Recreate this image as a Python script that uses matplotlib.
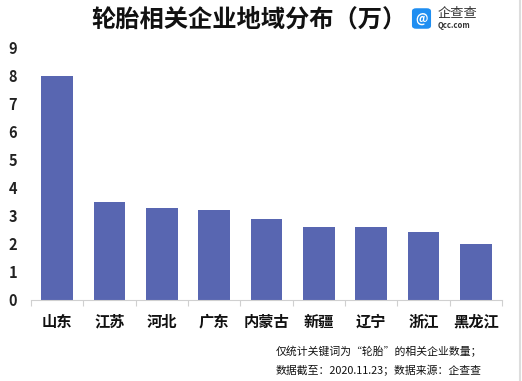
import matplotlib
matplotlib.use('Agg')
from matplotlib import pyplot as plt
from matplotlib.patches import FancyBboxPatch
from matplotlib.lines import Line2D

plt.rcParams['font.family'] = ['Noto Sans CJK SC', 'DejaVu Sans']

regions = ['山东', '江苏', '河北', '广东', '内蒙古', '新疆', '辽宁', '浙江', '黑龙江']
counts = [8.0, 3.51, 3.27, 3.20, 2.88, 2.62, 2.60, 2.42, 1.99]
yticks = list(range(10))

title = '轮胎相关企业地域分布（万）'
note1 = '仅统计关键词为“轮胎”的相关企业数量；'
note2 = '数据截至：2020.11.23；数据来源：企查查'

bar_color = '#5866b1'

if __name__ == '__main__':
    fig = plt.figure(figsize=(5.22, 3.81), dpi=100)
    ax = fig.add_axes([31 / 522, 81 / 381, 471 / 522, 252 / 381])

    x = range(len(regions))
    ax.bar(x, counts, width=0.6, color=bar_color)

    ax.set_xlim(-0.5, len(regions) - 0.5)
    ax.set_ylim(0, 9)
    ax.set_yticks(yticks)
    ax.set_yticklabels([str(t) for t in yticks], fontsize=10.5,
                       fontweight='bold', color='#222222')
    ax.tick_params(axis='y', length=0, pad=10)

    # 类别标签放在柱子下面，刻度线放在类别之间
    ax.set_xticks([i - 0.5 for i in range(len(regions) + 1)])
    ax.set_xticklabels([])
    ax.tick_params(axis='x', length=4, color='#d0d0d0', direction='out')
    for i, name in enumerate(regions):
        ax.text(i, -0.78, name, ha='center', va='center', fontsize=11,
                fontweight='bold', color='#111111')

    for side in ['top', 'right', 'left']:
        ax.spines[side].set_visible(False)
    ax.spines['bottom'].set_color('#d0d0d0')

    fig.text(249 / 522, 1 - 19.5 / 381, title, ha='center', va='center',
             fontsize=17.5, fontweight='bold', color='#111111')

    # 企查查 logo
    fig.patches.append(FancyBboxPatch((413 / 522, 1 - 28 / 381), 17 / 522, 19 / 381,
                                      boxstyle='round,pad=0.002,rounding_size=0.008',
                                      transform=fig.transFigure, facecolor='#1f8ef1',
                                      edgecolor='none'))
    fig.text(421.5 / 522, 1 - 18.5 / 381, '@', ha='center', va='center',
             fontsize=9, color='white', fontweight='bold')
    fig.text(438 / 522, 1 - 14 / 381, '企查查', ha='left', va='center',
             fontsize=9.5, color='#333333')
    fig.text(438 / 522, 1 - 25 / 381, 'Qcc.com', ha='left', va='center',
             fontsize=5.5, color='#333333', fontweight='bold')

    fig.text(276 / 522, 1 - 351.5 / 381, note1, ha='left', va='center',
             fontsize=7.8, color='#111111')
    fig.text(276 / 522, 1 - 370 / 381, note2, ha='left', va='center',
             fontsize=7.8, color='#111111')

    fig.lines.append(Line2D([520 / 522, 520 / 522], [0, 1], transform=fig.transFigure,
                            color='#dddddd', linewidth=1.5))

    fig.savefig('out.png', dpi=100)
